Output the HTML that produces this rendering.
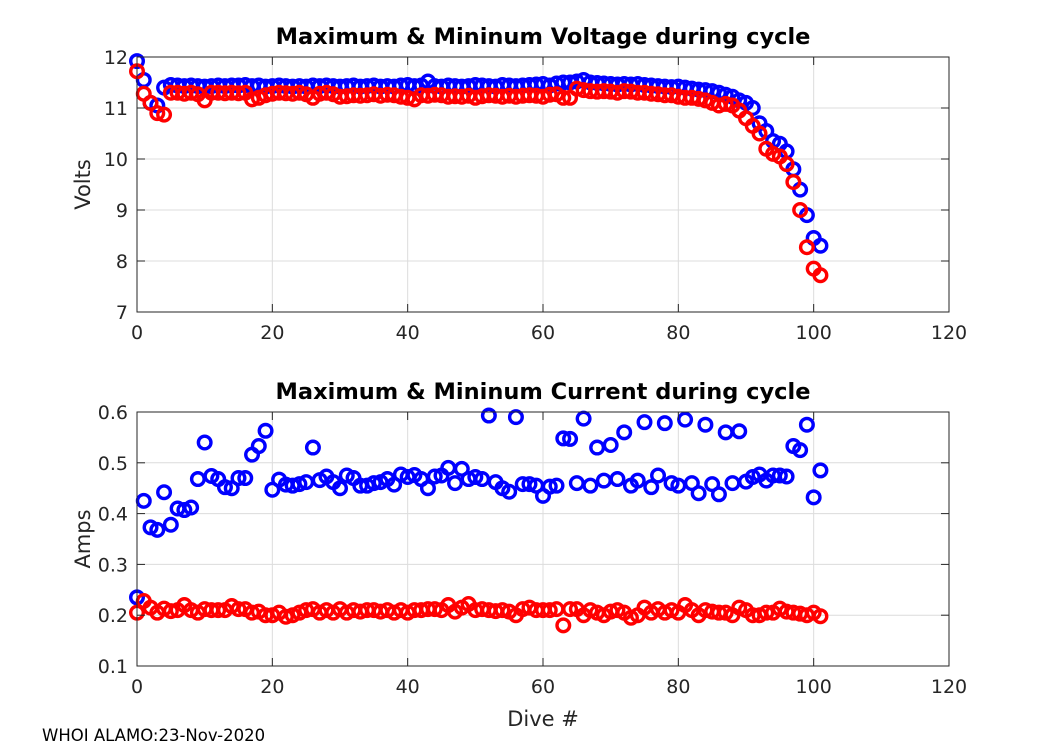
<!DOCTYPE html>
<html><head><meta charset="utf-8"><style>
body{margin:0;background:#fff;}
svg text{font-family:"DejaVu Sans","Liberation Sans",sans-serif;}
</style></head><body>
<svg id="chart" width="1050" height="750" xmlns="http://www.w3.org/2000/svg"></svg>
<script>
const dives = Array.from({length:102},(_,i)=>i);
const voltMax = [11.92,11.55,11.1,11.05,11.4,11.45,11.44,11.43,11.44,11.43,11.42,11.43,11.44,11.43,11.44,11.44,11.45,11.43,11.44,11.42,11.43,11.44,11.43,11.42,11.43,11.42,11.44,11.43,11.44,11.43,11.42,11.43,11.44,11.42,11.43,11.44,11.42,11.43,11.42,11.44,11.45,11.43,11.44,11.52,11.43,11.42,11.44,11.43,11.42,11.43,11.45,11.44,11.43,11.42,11.45,11.44,11.43,11.44,11.45,11.46,11.47,11.44,11.48,11.50,11.50,11.52,11.55,11.50,11.49,11.48,11.47,11.46,11.47,11.46,11.47,11.45,11.44,11.43,11.42,11.41,11.42,11.40,11.38,11.36,11.35,11.33,11.30,11.26,11.22,11.15,11.1,11.0,10.7,10.55,10.35,10.3,10.15,9.8,9.4,8.9,8.45,8.3];
const voltMin = [11.72,11.28,11.1,10.9,10.87,11.3,11.3,11.28,11.3,11.27,11.15,11.3,11.3,11.29,11.3,11.29,11.3,11.17,11.2,11.25,11.28,11.3,11.29,11.28,11.3,11.27,11.2,11.28,11.3,11.27,11.22,11.23,11.25,11.24,11.25,11.27,11.24,11.26,11.25,11.22,11.2,11.17,11.25,11.24,11.26,11.25,11.22,11.23,11.22,11.24,11.2,11.23,11.25,11.24,11.22,11.24,11.22,11.24,11.25,11.24,11.22,11.26,11.27,11.2,11.2,11.38,11.35,11.33,11.32,11.33,11.32,11.3,11.33,11.32,11.3,11.3,11.28,11.27,11.25,11.25,11.22,11.2,11.2,11.18,11.15,11.1,11.05,11.08,11.05,10.95,10.8,10.65,10.5,10.2,10.1,10.05,9.9,9.55,9.0,8.27,7.85,7.72];
const ampMax = [0.235,0.425,0.373,0.368,0.442,0.378,0.41,0.407,0.412,0.468,0.54,0.474,0.468,0.452,0.45,0.47,0.47,0.516,0.533,0.563,0.447,0.467,0.457,0.455,0.458,0.462,0.53,0.466,0.473,0.462,0.45,0.475,0.47,0.455,0.455,0.46,0.462,0.468,0.457,0.477,0.472,0.476,0.468,0.45,0.473,0.475,0.49,0.46,0.488,0.468,0.472,0.468,0.593,0.462,0.45,0.443,0.59,0.458,0.458,0.455,0.435,0.453,0.455,0.548,0.547,0.46,0.587,0.455,0.53,0.465,0.535,0.468,0.56,0.455,0.465,0.58,0.452,0.475,0.578,0.46,0.455,0.585,0.46,0.44,0.575,0.458,0.438,0.56,0.46,0.562,0.463,0.472,0.477,0.465,0.475,0.475,0.473,0.533,0.525,0.575,0.432,0.485];
const ampMin = [0.205,0.228,0.215,0.205,0.213,0.208,0.21,0.22,0.21,0.205,0.212,0.21,0.21,0.21,0.218,0.212,0.212,0.205,0.207,0.2,0.2,0.205,0.197,0.2,0.205,0.21,0.212,0.205,0.21,0.205,0.212,0.205,0.21,0.207,0.21,0.21,0.207,0.21,0.205,0.21,0.205,0.21,0.21,0.212,0.212,0.21,0.22,0.207,0.215,0.222,0.21,0.212,0.21,0.208,0.21,0.207,0.2,0.212,0.215,0.21,0.21,0.21,0.212,0.18,0.212,0.212,0.2,0.21,0.205,0.2,0.207,0.21,0.205,0.195,0.2,0.215,0.205,0.212,0.205,0.21,0.205,0.22,0.21,0.2,0.21,0.207,0.205,0.205,0.2,0.215,0.21,0.2,0.2,0.205,0.205,0.213,0.207,0.205,0.203,0.2,0.205,0.198];
const xTicks = [0,20,40,60,80,100,120];
const voltTicks = [7,8,9,10,11,12];
const ampTicks = [0.1,0.2,0.3,0.4,0.5,0.6];

const svg=document.getElementById('chart');
const NS='http://www.w3.org/2000/svg';
function mk(tag,attrs,parent){const e=document.createElementNS(NS,tag);for(const k in attrs)e.setAttribute(k,attrs[k]);(parent||svg).appendChild(e);return e;}
const L=137,R=949;
function xs(v){return L+(v-0)/(120-0)*(R-L);}
function drawPanel(name,top,bot,ymin,ymax,yt,fmt,title,ylabel,series){
  const ys=v=>bot-(v-ymin)/(ymax-ymin)*(bot-top);
  const g=mk('g',{});
  
  
  xTicks.forEach(t=>{const l=mk('line',{x1:xs(t),x2:xs(t),y1:top,y2:bot,stroke:'#dcdcdc','stroke-width':1},g);
    });
  yt.forEach(t=>{const l=mk('line',{x1:L,x2:R,y1:ys(t),y2:ys(t),stroke:'#dcdcdc','stroke-width':1},g);
    });
  series.forEach(s=>{const sg=mk('g',{},g);
    
    s.vals.forEach((v,i)=>{const c=mk('circle',{cx:xs(dives[i]),cy:ys(v),r:6.3,fill:'none',stroke:s.color,'stroke-width':3.4},sg);
      });});
  const box=mk('rect',{x:L,y:top,width:R-L,height:bot-top,fill:'none',stroke:'#262626','stroke-width':1},g);
  
  xTicks.forEach(t=>{mk('line',{x1:xs(t),x2:xs(t),y1:bot,y2:bot-8,stroke:'#262626'},g);mk('line',{x1:xs(t),x2:xs(t),y1:top,y2:top+8,stroke:'#262626'},g);
    const tx=mk('text',{x:xs(t),y:bot+27,'font-size':19,'text-anchor':'middle',fill:'#262626'},g);tx.textContent=t;
    });
  yt.forEach(t=>{mk('line',{x1:L,x2:L+8,y1:ys(t),y2:ys(t),stroke:'#262626'},g);mk('line',{x1:R,x2:R-8,y1:ys(t),y2:ys(t),stroke:'#262626'},g);
    const tx=mk('text',{x:L-9,y:ys(t)+7,'font-size':19,'text-anchor':'end',fill:'#262626'},g);tx.textContent=fmt(t);
    });
  const tt=mk('text',{x:(L+R)/2-0,y:top-13,'font-size':22.5,'font-weight':'bold','text-anchor':'middle',fill:'#000'},g);tt.textContent=title;
  
  const yl=mk('text',{x:0,y:0,'font-size':21,'text-anchor':'middle',fill:'#262626',transform:`translate(${L-47},${(top+bot)/2}) rotate(-90)`},g);yl.textContent=ylabel;
  
}
drawPanel('voltage',57,312,7,12,voltTicks,t=>t,'Maximum & Mininum Voltage during cycle','Volts',
  [{name:'voltage-max',vals:voltMax,color:'#0000ff'},{name:'voltage-min',vals:voltMin,color:'#ff0000'}]);
drawPanel('current',412,666,0.1,0.6,ampTicks,t=>t.toFixed(1),'Maximum & Mininum Current during cycle','Amps',
  [{name:'current-max',vals:ampMax,color:'#0000ff'},{name:'current-min',vals:ampMin,color:'#ff0000'}]);
const xl=mk('text',{x:(L+R)/2,y:726,'font-size':21,'text-anchor':'middle',fill:'#262626'});xl.textContent='Dive #';


const ft=mk('text',{x:42,y:741,'font-size':16.5,fill:'#000'});ft.textContent='WHOI ALAMO:23-Nov-2020';


</script>
</body></html>
